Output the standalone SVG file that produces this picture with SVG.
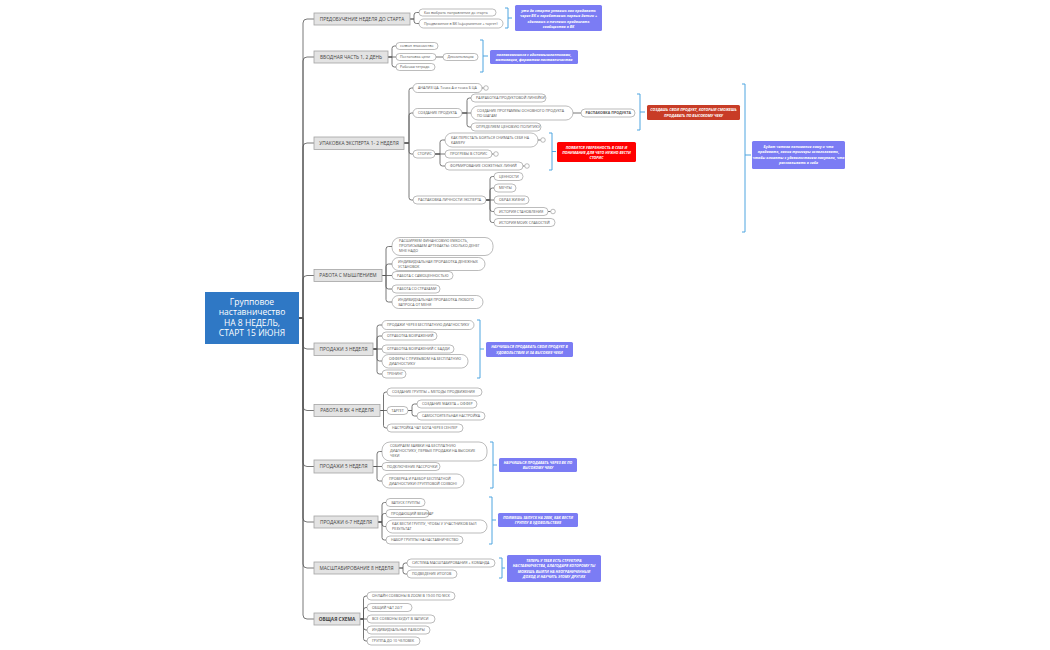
<svg xmlns="http://www.w3.org/2000/svg" width="1050" height="650" viewBox="0 0 1050 650">
<style>
text{font-family:"Open Sans","Liberation Sans",sans-serif}
.m rect{fill:#e3e3e3;stroke:#a3a3a3;stroke-width:0.8}
.m text{font-size:4.8px;fill:#444;text-anchor:middle}
.c rect{fill:#fff;stroke:#8e8e8e;stroke-width:0.6}
.c text{font-size:3.6px;fill:#555}
.c circle{fill:#fff;stroke:#8e8e8e;stroke-width:0.6}
#connectors path{fill:none;stroke:#555;stroke-width:0.8}
.br{fill:none;stroke:#4ea5e0;stroke-width:1}
.n text{fill:#fff;font-size:3.7px;font-style:italic;font-weight:bold;text-anchor:middle}
.pu{fill:#7b7cf4}
</style>
<rect width="1050" height="650" fill="#fff"/>
<g id="connectors">
<path d="M299,318H303V23Q303,19 307,19H314"/>
<path d="M299,318H303V61Q303,57 307,57H314"/>
<path d="M299,318H303V147Q303,143 307,143H314"/>
<path d="M299,318H303V279.5Q303,275.5 307,275.5H314"/>
<path d="M299,318H303V345Q303,349 307,349H314"/>
<path d="M299,318H303V406.5Q303,410.5 307,410.5H314"/>
<path d="M299,318H303V462.5Q303,466.5 307,466.5H314"/>
<path d="M299,318H303V518Q303,522 307,522H314"/>
<path d="M299,318H303V564Q303,568 307,568H314"/>
<path d="M299,318H303V615Q303,619 307,619H314"/>
<path d="M410,19H414V15Q414,12.5 416.5,12.5H419"/>
<path d="M410,19H414V21Q414,23.5 416.5,23.5H419"/>
<path d="M388,57H392V48.5Q392,46 394.5,46H396"/>
<path d="M388,57H396"/>
<path d="M388,57H392V64.5Q392,67 394.5,67H396"/>
<path d="M436,57H443"/>
<path d="M404,143H409V90.5Q409,88 411.5,88H413"/>
<path d="M404,143H409V115.5Q409,113 411.5,113H413"/>
<path d="M404,143H409V151.5Q409,154 411.5,154H413"/>
<path d="M404,143H409V197.5Q409,200 411.5,200H413"/>
<path d="M482,88H483.7"/>
<path d="M462,113H467V100.5Q467,98 469.5,98H471"/>
<path d="M462,113H471"/>
<path d="M462,113H467V124.5Q467,127 469.5,127H471"/>
<path d="M573,113H581"/>
<path d="M435,154H440V142.5Q440,140 442.5,140H445"/>
<path d="M435,154H445"/>
<path d="M435,154H440V163.5Q440,166 442.5,166H445"/>
<path d="M538,140H540.7M492,154H493.7M523,166H524.7M548,211.5H550.7"/>
<path d="M486,200H490V179Q490,176.5 492.5,176.5H494"/>
<path d="M486,200H490V190.5Q490,188 492.5,188H494"/>
<path d="M486,200H494"/>
<path d="M486,200H490V209Q490,211.5 492.5,211.5H494"/>
<path d="M486,200H490V220Q490,222.5 492.5,222.5H494"/>
<path d="M382,275.5H386V249Q386,246.5 388.5,246.5H392"/>
<path d="M382,275.5H386V266.5Q386,264 388.5,264H392"/>
<path d="M382,275.5H392"/>
<path d="M382,275.5H386V286.5Q386,289 388.5,289H392"/>
<path d="M382,275.5H386V299.5Q386,302 388.5,302H392"/>
<path d="M373,349H377V327.5Q377,325 379.5,325H382"/>
<path d="M373,349H377V338.5Q377,336 379.5,336H382"/>
<path d="M373,349H382"/>
<path d="M373,349H377V358.5Q377,361 379.5,361H382"/>
<path d="M373,349H377V371.5Q377,374 379.5,374H382"/>
<path d="M380,410.5H383.5V394.5Q383.5,392 386,392H387"/>
<path d="M380,410.5H387"/>
<path d="M380,410.5H383.5V425.5Q383.5,428 386,428H387"/>
<path d="M408,410.5H412V406.5Q412,404 414.5,404H417"/>
<path d="M408,410.5H412V413.5Q412,416 414.5,416H417"/>
<path d="M373,466.5H377V454Q377,451.5 379.5,451.5H382"/>
<path d="M373,466.5H382"/>
<path d="M373,466.5H377V478.5Q377,481 379.5,481H382"/>
<path d="M378,522H382V505Q382,502.5 384.5,502.5H386"/>
<path d="M378,522H382V516Q382,513.5 384.5,513.5H386"/>
<path d="M378,522H382V524Q382,526.5 384.5,526.5H386"/>
<path d="M378,522H382V537.5Q382,540 384.5,540H386"/>
<path d="M399,568H403V565.5Q403,563 405.5,563H407"/>
<path d="M399,568H403V571.5Q403,574 405.5,574H407"/>
<path d="M360,619H363.5V598.5Q363.5,596 366,596H367"/>
<path d="M360,619H363.5V610Q363.5,607.5 366,607.5H367"/>
<path d="M360,619H367"/>
<path d="M360,619H363.5V627.5Q363.5,630 366,630H367"/>
<path d="M360,619H363.5V638.5Q363.5,641 366,641H367"/>
</g>
<g id="brackets">
<path class="br" d="M505,8H508V28H505M508,18H512"/>
<path class="br" d="M480,40H483V72H480M483,56H488"/>
<path class="br" d="M637,94H640V130H637M640,112H645"/>
<path class="br" d="M549,133H552V170H549M552,151.5H556"/>
<path class="br" d="M742,84H745V232H742M745,155H751"/>
<path class="br" d="M477,320H480V378H477M480,349H484"/>
<path class="br" d="M490,442H493V488H490M493,465H497"/>
<path class="br" d="M489,497H492V544H489M492,520H496"/>
<path class="br" d="M499,558H502V578H499M502,568H505"/>
</g>
<g id="root">
<rect x="205" y="292" width="94" height="52" fill="#2f78c5"/>
<text x="252" y="304.5" font-size="8.5" fill="#fff" text-anchor="middle">Групповое</text>
<text x="252" y="315" font-size="8.5" fill="#fff" text-anchor="middle">наставничество</text>
<text x="252" y="325.5" font-size="8.5" fill="#fff" text-anchor="middle">НА 8 НЕДЕЛЬ,</text>
<text x="252" y="336" font-size="8.5" fill="#fff" text-anchor="middle">СТАРТ 15 ИЮНЯ</text>
</g>
<g id="m1" class="m"><rect x="314" y="13" width="96" height="12"/><text x="362" y="20.7">ПРЕДОБУЧЕНИЕ НЕДЕЛЯ ДО СТАРТА</text></g>
<g id="m2" class="m"><rect x="314" y="51" width="74" height="12"/><text x="351" y="58.7">ВВОДНАЯ ЧАСТЬ 1, 2 ДЕНЬ</text></g>
<g id="m3" class="m"><rect x="314" y="137" width="90" height="12.5"/><text x="359" y="144.9">УПАКОВКА ЭКСПЕРТА 1- 2 НЕДЕЛЯ</text></g>
<g id="m4" class="m"><rect x="314" y="269.5" width="68" height="12"/><text x="348" y="277.2">РАБОТА С МЫШЛЕНИЕМ</text></g>
<g id="m5" class="m"><rect x="314" y="343" width="59" height="12.5"/><text x="343.5" y="350.9">ПРОДАЖИ 3 НЕДЕЛЯ</text></g>
<g id="m6" class="m"><rect x="314" y="404.5" width="66" height="12"/><text x="347" y="412.2">РАБОТА В ВК 4 НЕДЕЛЯ</text></g>
<g id="m7" class="m"><rect x="314" y="460" width="59" height="13"/><text x="343.5" y="468.2">ПРОДАЖИ 5 НЕДЕЛЯ</text></g>
<g id="m8" class="m"><rect x="314" y="516" width="64" height="12"/><text x="346" y="523.7">ПРОДАЖИ 6-7 НЕДЕЛЯ</text></g>
<g id="m9" class="m"><rect x="314" y="562" width="85" height="12"/><text x="356.5" y="569.7">МАСШТАБИРОВАНИЕ 8 НЕДЕЛЯ</text></g>
<g id="m10" class="m"><rect x="314" y="613" width="46" height="12"/><text x="337" y="620.7" font-weight="bold">ОБЩАЯ СХЕМА</text></g>

<g id="c1a" class="c"><rect x="419" y="9" width="77" height="7" rx="3.5"/><text x="424" y="13.8">Как выбрать направление до старта</text></g>
<g id="c1b" class="c"><rect x="419" y="19" width="84" height="9" rx="4.5"/><text x="424" y="24.8">Продвижение в ВК (оформление + таргет)</text></g>
<g id="c2a" class="c"><rect x="396" y="42.5" width="42" height="7" rx="3.5"/><text x="400" y="47.3">созвон знакомство</text></g>
<g id="c2b" class="c"><rect x="396" y="53.5" width="40" height="7" rx="3.5"/><text x="400" y="58.3">Постановка цели</text></g>
<g id="c2c" class="c"><rect x="396" y="63.5" width="39" height="7" rx="3.5"/><text x="400" y="68.3">Рабочая тетрадь</text></g>
<g id="c2d" class="c"><rect x="443" y="53.5" width="35" height="7" rx="3.5"/><text x="447.5" y="58.3">Декомпозиция</text></g>

<g id="c3a" class="c"><rect x="413" y="83.5" width="69" height="9" rx="4.5"/><text x="418" y="89.3">АНАЛИЗ ЦА. Точка А и точка Б ЦА</text><circle cx="486" cy="88" r="2.3"/></g>
<g id="c3b" class="c"><rect x="413" y="108.5" width="49" height="9" rx="4.5"/><text x="418" y="114.3">СОЗДАНИЕ ПРОДУКТА</text></g>
<g id="c3b1" class="c"><rect x="471" y="94" width="75" height="8" rx="4"/><text x="476" y="99.3">РАЗРАБОТКА ПРОДУКТОВОЙ ЛИНЕЙКИ</text></g>
<g id="c3b2" class="c"><rect x="471" y="106" width="102" height="14" rx="7"/><text x="477" y="111.6">СОЗДАНИЕ ПРОГРАММЫ ОСНОВНОГО ПРОДУКТА</text><text x="477" y="116.6">ПО ШАГАМ</text></g>
<g id="c3b2a" class="c"><rect x="581" y="109" width="54" height="8" rx="4"/><text x="585.5" y="114.3" font-weight="bold" fill="#444">РАСПАКОВКА ПРОДУКТА</text></g>
<g id="c3b3" class="c"><rect x="471" y="123" width="70" height="8" rx="4"/><text x="476" y="128.3">ОПРЕДЕЛЯЕМ ЦЕНОВУЮ ПОЛИТИКУ</text></g>
<g id="c3c" class="c"><rect x="413" y="150" width="22" height="8" rx="4"/><text x="417.5" y="155.3">СТОРИС</text></g>
<g id="c3c1" class="c"><rect x="445" y="133" width="93" height="14" rx="7"/><text x="451" y="138.6">КАК ПЕРЕСТАТЬ БОЯТЬСЯ СНИМАТЬ СЕБЯ НА</text><text x="451" y="143.6">КАМЕРУ</text><circle cx="543" cy="140" r="2.3"/></g>
<g id="c3c2" class="c"><rect x="445" y="150" width="47" height="8" rx="4"/><text x="450" y="155.3">ПРОГРЕВЫ В СТОРИС</text><circle cx="496" cy="154" r="2.3"/></g>
<g id="c3c3" class="c"><rect x="445" y="162" width="78" height="8" rx="4"/><text x="450" y="167.3">ФОРМИРОВАНИЕ СЮЖЕТНЫХ ЛИНИЙ</text><circle cx="527" cy="166" r="2.3"/></g>
<g id="c3d" class="c"><rect x="413" y="196" width="73" height="8" rx="4"/><text x="418" y="201.3">РАСПАКОВКА ЛИЧНОСТИ ЭКСПЕРТА</text></g>
<g id="c3d1" class="c"><rect x="494" y="172.5" width="29" height="8" rx="4"/><text x="499" y="177.8">ЦЕННОСТИ</text></g>
<g id="c3d2" class="c"><rect x="494" y="184" width="22" height="8" rx="4"/><text x="499" y="189.3">МЕЧТЫ</text></g>
<g id="c3d3" class="c"><rect x="494" y="196" width="35" height="8" rx="4"/><text x="499" y="201.3">ОБРАЗ ЖИЗНИ</text></g>
<g id="c3d4" class="c"><rect x="494" y="207.5" width="54" height="8" rx="4"/><text x="499" y="212.8">ИСТОРИЯ СТАНОВЛЕНИЯ</text><circle cx="553" cy="211.5" r="2.3"/></g>
<g id="c3d5" class="c"><rect x="494" y="218.5" width="61" height="8" rx="4"/><text x="499" y="223.8">ИСТОРИЯ МОИХ СЛАБОСТЕЙ</text></g>

<g id="c4a" class="c"><rect x="392" y="237.5" width="101" height="18" rx="8"/><text x="399" y="242.4">РАСШИРЯЕМ ФИНАНСОВУЮ ЕМКОСТЬ,</text><text x="399" y="247.4">ПРОПИСЫВАЕМ АРТЕФАКТЫ: СКОЛЬКО ДЕНЕГ</text><text x="399" y="252.4">МНЕ НАДО</text></g>
<g id="c4b" class="c"><rect x="392" y="257.5" width="93" height="13" rx="6.5"/><text x="398" y="262.7">ИНДИВИДУАЛЬНАЯ ПРОРАБОТКА ДЕНЕЖНЫХ</text><text x="398" y="267.7">УСТАНОВОК</text></g>
<g id="c4c" class="c"><rect x="392" y="271.5" width="61" height="8" rx="4"/><text x="397" y="276.8">РАБОТА С САМОЦЕННОСТЬЮ</text></g>
<g id="c4d" class="c"><rect x="392" y="285" width="48" height="8" rx="4"/><text x="397" y="290.3">РАБОТА СО СТРАХАМИ</text></g>
<g id="c4e" class="c"><rect x="392" y="295.5" width="91" height="13" rx="6.5"/><text x="398" y="300.7">ИНДИВИДУАЛЬНАЯ ПРОРАБОТКА ЛЮБОГО</text><text x="398" y="305.7">ЗАПРОСА ОТ МЕНЯ</text></g>

<g id="c5a" class="c"><rect x="382" y="320.5" width="92" height="9" rx="4.5"/><text x="387" y="326.3">ПРОДАЖИ ЧЕРЕЗ БЕСПЛАТНУЮ ДИАГНОСТИКУ</text></g>
<g id="c5b" class="c"><rect x="382" y="332" width="55" height="8" rx="4"/><text x="387" y="337.3">ОТРАБОТКА ВОЗРАЖЕНИЙ</text></g>
<g id="c5c" class="c"><rect x="382" y="345" width="72" height="8" rx="4"/><text x="387" y="350.3">ОТРАБОТКА ВОЗРАЖЕНИЙ С БАДДИ</text></g>
<g id="c5d" class="c"><rect x="382" y="354.5" width="86" height="13.5" rx="6.5"/><text x="389" y="359.9">ОФФЕРЫ С ПРИЗЫВОМ НА БЕСПЛАТНУЮ</text><text x="389" y="364.9">ДИАГНОСТИКУ</text></g>
<g id="c5e" class="c"><rect x="382" y="370" width="24" height="8" rx="4"/><text x="387" y="375.3">ТРЕНИНГ</text></g>

<g id="c6a" class="c"><rect x="387" y="388" width="95" height="8" rx="4"/><text x="392" y="393.3">СОЗДАНИЕ ГРУППЫ + МЕТОДЫ ПРОДВИЖЕНИЯ</text></g>
<g id="c6b" class="c"><rect x="387" y="406.5" width="21" height="8" rx="4"/><text x="391.5" y="411.8">ТАРГЕТ</text></g>
<g id="c6b1" class="c"><rect x="417" y="400" width="60" height="8" rx="4"/><text x="422" y="405.3">СОЗДАНИЕ МАКЕТА + ОФФЕР</text></g>
<g id="c6b2" class="c"><rect x="417" y="412" width="68" height="8" rx="4"/><text x="422" y="417.3">САМОСТОЯТЕЛЬНАЯ НАСТРОЙКА</text></g>
<g id="c6c" class="c"><rect x="387" y="424" width="76" height="8" rx="4"/><text x="392" y="429.3">НАСТРОЙКА ЧАТ БОТА ЧЕРЕЗ СЕНЛЕР</text></g>

<g id="c7a" class="c"><rect x="382" y="442" width="105" height="19" rx="8"/><text x="390" y="447.3">СОБИРАЕМ ЗАЯВКИ НА БЕСПЛАТНУЮ</text><text x="390" y="452.3">ДИАГНОСТИКУ, ПЕРВЫЕ ПРОДАЖИ НА ВЫСОКИЕ</text><text x="390" y="457.3">ЧЕКИ</text></g>
<g id="c7b" class="c"><rect x="382" y="462.5" width="58" height="8" rx="4"/><text x="387" y="467.8">ПОДКЛЮЧЕНИЕ РАССРОЧКИ</text></g>
<g id="c7c" class="c"><rect x="382" y="474" width="82" height="14" rx="7"/><text x="389" y="479.6">ПРОВЕРКА И РАЗБОР БЕСПЛАТНОЙ</text><text x="389" y="484.6">ДИАГНОСТИКИ (ГРУППОВОЙ СОЗВОН)</text></g>

<g id="c8a" class="c"><rect x="386" y="498.5" width="39" height="8" rx="4"/><text x="391" y="503.8">ЗАПУСК ГРУППЫ</text></g>
<g id="c8b" class="c"><rect x="386" y="509.5" width="43" height="8" rx="4"/><text x="391" y="514.8">ПРОДАЮЩИЙ ВЕБИНАР</text></g>
<g id="c8c" class="c"><rect x="386" y="520" width="101" height="13" rx="6.5"/><text x="392" y="525.2">КАК ВЕСТИ ГРУППУ, ЧТОБЫ У УЧАСТНИКОВ БЫЛ</text><text x="392" y="530.2">РЕЗУЛЬТАТ</text></g>
<g id="c8d" class="c"><rect x="386" y="536" width="77" height="8" rx="4"/><text x="391" y="541.3">НАБОР ГРУППЫ НА НАСТАВНИЧЕСТВО</text></g>

<g id="c9a" class="c"><rect x="407" y="559" width="88" height="8" rx="4"/><text x="412" y="564.3">СИСТЕМА МАСШТАБИРОВАНИЯ + КОМАНДА</text></g>
<g id="c9b" class="c"><rect x="407" y="570" width="50" height="8" rx="4"/><text x="412" y="575.3">ПОДВЕДЕНИЕ ИТОГОВ</text></g>

<g id="c10a" class="c"><rect x="367" y="592" width="88" height="8" rx="4"/><text x="372" y="597.3">ОНЛАЙН СОЗВОНЫ В ZOOM В 19:00 ПО МСК</text></g>
<g id="c10b" class="c"><rect x="367" y="603.5" width="45" height="8" rx="4"/><text x="372" y="608.8">ОБЩИЙ ЧАТ 24/7</text></g>
<g id="c10c" class="c"><rect x="367" y="615" width="68" height="8" rx="4"/><text x="372" y="620.3">ВСЕ СОЗВОНЫ БУДУТ В ЗАПИСИ</text></g>
<g id="c10d" class="c"><rect x="367" y="626" width="63" height="8" rx="4"/><text x="372" y="631.3">ИНДИВИДУАЛЬНЫЕ РАЗБОРЫ</text></g>
<g id="c10e" class="c"><rect x="367" y="637" width="53" height="8" rx="4"/><text x="372" y="642.3">ГРУППА ДО 10 ЧЕЛОВЕК</text></g>

<g id="n1" class="n"><rect class="pu" x="515" y="5" width="87" height="26" rx="1.5"/><text x="558.5" y="11.5">уже до старта узнаешь как продавать</text><text x="558.5" y="17">через ВК и заработаешь первые деньги +</text><text x="558.5" y="22.5">сделаешь и начнешь продвигать</text><text x="558.5" y="28">сообщество в ВК</text></g>
<g id="n2" class="n"><rect class="pu" x="490" y="50" width="88" height="14" rx="1.5"/><text x="534" y="56">познакомишься с единомышленниками,</text><text x="534" y="61.3">мотивация, форматом наставничества</text></g>
<g id="n3" class="n"><rect x="647" y="105" width="93" height="15" rx="1.5" fill="#c83c26"/><text x="693.5" y="111.3" font-style="normal" font-size="3.5">СОЗДАШЬ СВОЙ ПРОДУКТ, КОТОРЫЙ СМОЖЕШЬ</text><text x="693.5" y="116.8" font-style="normal" font-size="3.5">ПРОДАВАТЬ ПО ВЫСОКОМУ ЧЕКУ</text></g>
<g id="n4" class="n"><rect x="557" y="142" width="79" height="20" rx="1.5" fill="#ff0000"/><text x="596.5" y="148.5">ПОЯВИТСЯ УВЕРЕННОСТЬ В СЕБЕ И</text><text x="596.5" y="153.8">ПОНИМАНИЕ ДЛЯ ЧЕГО НУЖНО ВЕСТИ</text><text x="596.5" y="159.1">СТОРИС</text></g>
<g id="n5" class="n"><rect class="pu" x="752" y="141" width="93" height="28" rx="1.5"/><text x="798.5" y="147.5" font-size="3.5">Будет четкое понимание кому и что</text><text x="798.5" y="153" font-size="3.5">продавать, какие триггеры использовать,</text><text x="798.5" y="158.5" font-size="3.5">чтобы клиенты с удовольствием покупали, что</text><text x="798.5" y="164" font-size="3.5">рассказывать о себе</text></g>
<g id="n6" class="n"><rect class="pu" x="486" y="342" width="87" height="15" rx="1.5"/><text x="529.5" y="348.2">НАУЧИШЬСЯ ПРОДАВАТЬ СВОЙ ПРОДУКТ В</text><text x="529.5" y="353.6">УДОВОЛЬСТВИЕ И ЗА ВЫСОКИЕ ЧЕКИ</text></g>
<g id="n7" class="n"><rect class="pu" x="499" y="458" width="78" height="14" rx="1.5"/><text x="538" y="464">НАУЧИШЬСЯ ПРОДАВАТЬ ЧЕРЕЗ ВК ПО</text><text x="538" y="469.3">ВЫСОКОМУ ЧЕКУ</text></g>
<g id="n8" class="n"><rect class="pu" x="498" y="513" width="80" height="14" rx="1.5"/><text x="538" y="519">ПОЙМЕШЬ ЗАПУСК НА 200К, КАК ВЕСТИ</text><text x="538" y="524.3">ГРУППУ В УДОВОЛЬСТВИЕ</text></g>
<g id="n9" class="n"><rect class="pu" x="507" y="555" width="94" height="27" rx="1.5"/><text x="554" y="561.5">ТЕПЕРЬ У ТЕБЯ ЕСТЬ СТРУКТУРА</text><text x="554" y="567">НАСТАВНИЧЕСТВА, БЛАГОДАРЯ КОТОРОМУ ТЫ</text><text x="554" y="572.5">МОЖЕШЬ ВЫЙТИ НА НЕОГРАНИЧЕННЫЙ</text><text x="554" y="578">ДОХОД И НАУЧИТЬ ЭТОМУ ДРУГИХ</text></g>
</svg>
